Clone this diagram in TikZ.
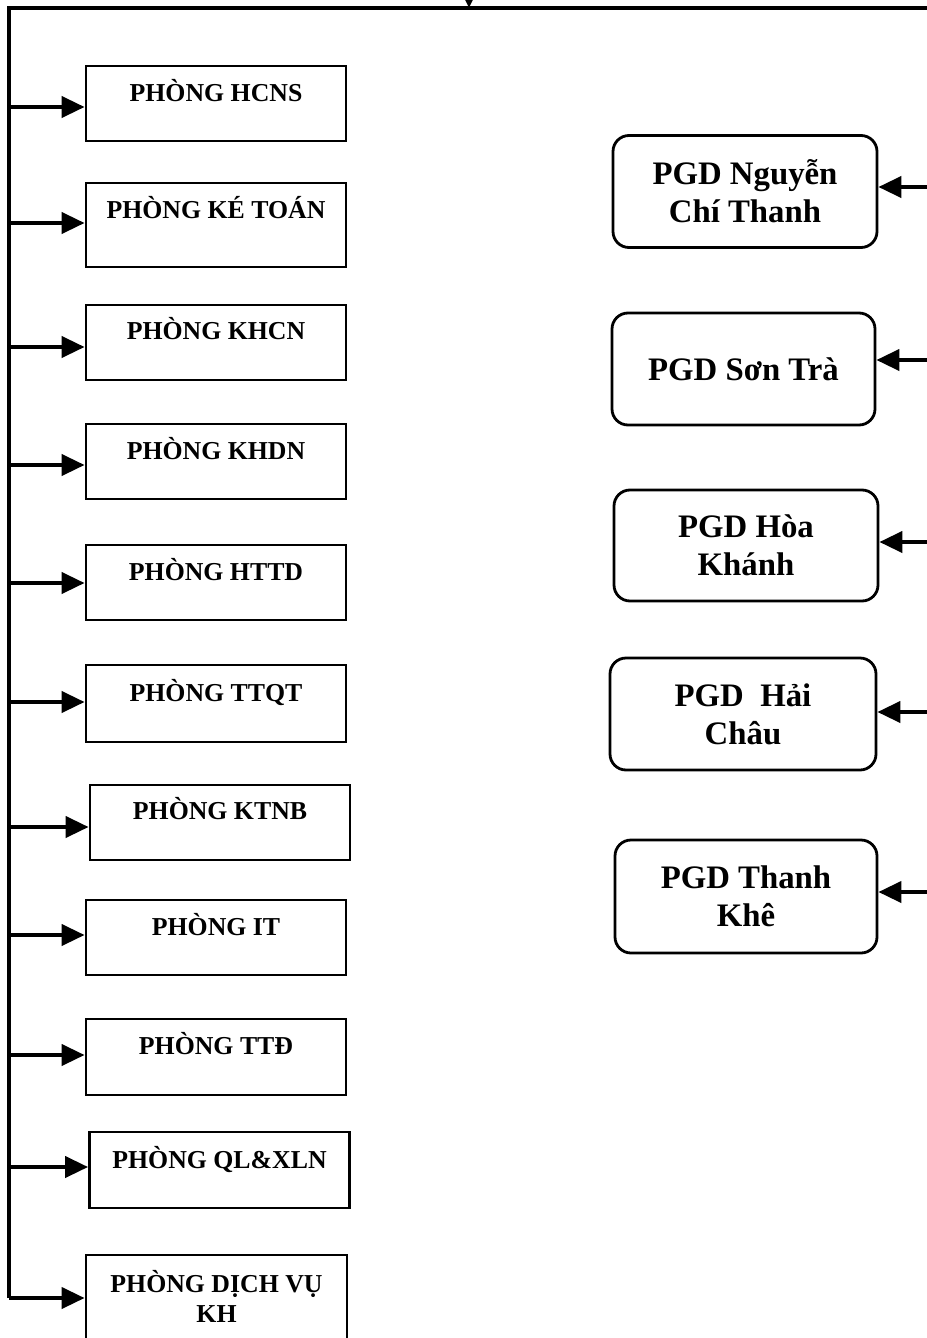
\documentclass[tikz,border=0pt]{standalone}
\usepackage{fontspec}
\setmainfont{Liberation Serif}
\usetikzlibrary{arrows.meta}
\begin{document}
\begin{tikzpicture}[x=0.5pt,y=-0.5pt,
  line/.style={line width=1.6pt},
  arr/.style={line width=2pt,-{Triangle[length=11.5pt,width=10.5pt]}},
  deptbox/.style={draw,line width=1.4pt,minimum width=130pt,minimum height=37.5pt,inner sep=0pt},
  depttext/.style={font=\fontsize{12.9}{15}\selectfont\bfseries,inner sep=0pt,align=center},
  pgdbox/.style={draw,line width=1.4pt,rounded corners=8pt,minimum width=132pt,minimum height=56pt,inner sep=0pt,
    align=center,font=\fontsize{16.4}{19}\selectfont\bfseries}]
\useasboundingbox (0,0) rectangle (926,1338);
% spine
\coordinate (top) at (9,8);
\coordinate (bot) at (9,1298);
\coordinate (topR) at (945,8);
\coordinate (topin) at (469,-30);
\coordinate (tophit) at (469,8);
\draw[line] (bot) -- (top) -- (topR);
\draw[arr] (topin) -- (tophit);
% left departments
\node[deptbox] (d1) at (216,103.5) {};
\node[depttext,anchor=base] at (216,101.5) {PHÒNG HCNS};
\node[deptbox,minimum height=42pt] (d2) at (216,225) {};
\node[depttext,anchor=base] at (216,218.5) {PHÒNG KÉ TOÁN};
\node[deptbox] (d3) at (216,342.5) {};
\node[depttext,anchor=base] at (216,339.5) {PHÒNG KHCN};
\node[deptbox] (d4) at (216,461.5) {};
\node[depttext,anchor=base] at (216,459.5) {PHÒNG KHDN};
\node[deptbox] (d5) at (216,582.5) {};
\node[depttext,anchor=base] at (216,580.5) {PHÒNG HTTD};
\node[deptbox,minimum height=38.5pt] (d6) at (216,703.5) {};
\node[depttext,anchor=base] at (216,701) {PHÒNG TTQT};
\node[deptbox] (d7) at (220,822.5) {};
\node[depttext,anchor=base] at (220,819.5) {PHÒNG KTNB};
\node[deptbox] (d8) at (216,937.5) {};
\node[depttext,anchor=base] at (216,935.5) {PHÒNG IT};
\node[deptbox,minimum height=38pt] (d9) at (216,1057) {};
\node[depttext,anchor=base] at (216,1054.5) {PHÒNG TTĐ};
\node[deptbox,minimum height=38pt] (d10) at (219.5,1170) {};
\node[depttext,anchor=base] at (219.5,1168.5) {PHÒNG QL\&XLN};
\node[deptbox,minimum height=50pt,minimum width=130.5pt] (d11) at (216.5,1305) {};
\node[depttext] at (216.5,1296) {PHÒNG DỊCH VỤ\\KH};
% arrows to departments
\foreach \n/\yy in {1/107,2/223,3/347,4/465,5/583,6/702,7/827,8/935,9/1055,10/1167,11/1298}{
  \coordinate (s\n) at (9,\yy);
  \draw[arr] (s\n) -- (s\n -| d\n.west);
}
% right branches
\node[pgdbox] (p1) at (745,191.5) {PGD Nguyễn\\Chí Thanh};
\node[pgdbox,minimum width=131.5pt] (p2) at (743.5,369) {PGD Sơn Trà};
\node[pgdbox,minimum height=55.5pt] (p3) at (746,545.5) {PGD Hòa\\Khánh};
\node[pgdbox,minimum width=133pt] (p4) at (743,714) {PGD\ \ Hải\\Châu};
\node[pgdbox,minimum width=131pt,minimum height=56.5pt] (p5) at (746,896.5) {PGD Thanh\\Khê};
\foreach \n/\yy in {1/187,2/360,3/542,4/712,5/892}{
  \coordinate (r\n) at (945,\yy);
  \draw[arr] (r\n) -- (r\n -| p\n.east);
}
\end{tikzpicture}
\end{document}
